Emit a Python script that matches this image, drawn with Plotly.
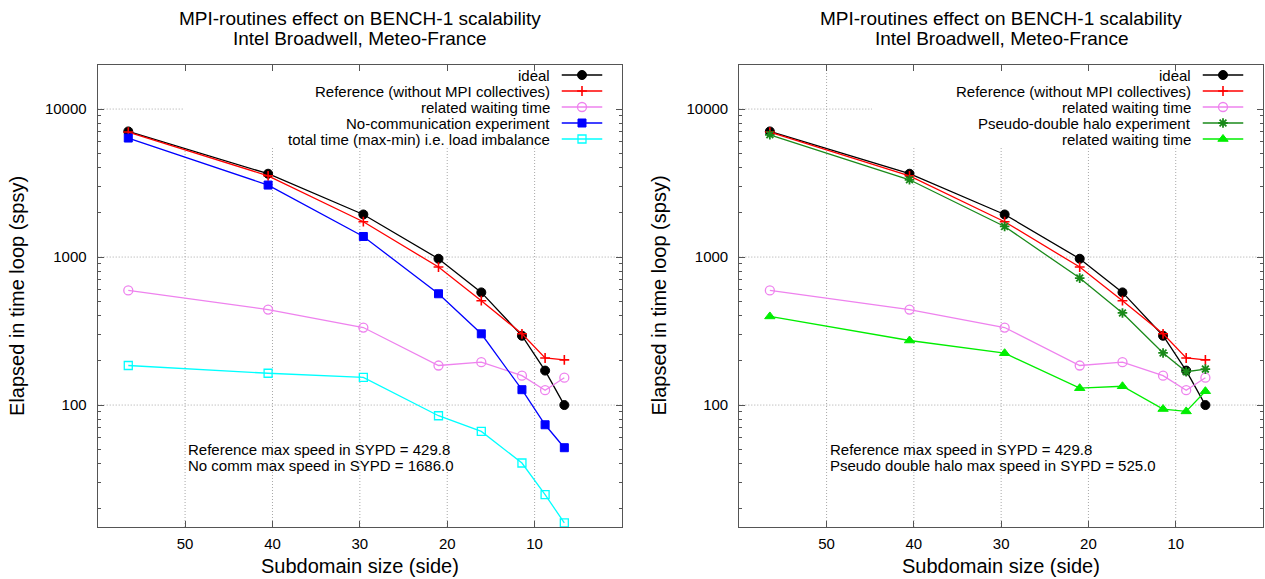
import math
import plotly.graph_objects as go

# ---------------- data ----------------
side = [56.5, 40.5, 29.6, 21.0, 16.1, 11.45, 8.8, 6.6]

ideal = [7060, 3656, 1940, 974, 577, 294, 171, 100]
reference = [6995, 3540, 1733, 856, 507, 303, 208, 202]
ref_wait = [595, 442, 334, 185, 195, 158, 126, 153]
nocomm = [6370, 3065, 1377, 565, 303, 127, 73.6, 51.5]
imbalance = [185, 164, 154, 84.7, 66.4, 40.6, 24.8, 16.0]
pseudo = [6700, 3327, 1610, 721, 419, 225, 168, 175]
pseudo_wait = [397, 273, 224, 130, 134, 94, 90.6, 124]

x_ticks = [10, 20, 30, 40, 50]
y_ticks = [100, 1000, 10000]
y_ticktext = ["100", "1000", "10000"]

title_lines = ["MPI-routines effect on BENCH-1 scalability", "Intel Broadwell, Meteo-France"]
x_title = "Subdomain size (side)"
y_title = "Elapsed in time loop (spsy)"

left_names = ["ideal", "Reference (without MPI collectives)", "related waiting time",
              "No-communication experiment", "total time (max-min) i.e. load imbalance"]
right_names = ["ideal", "Reference (without MPI collectives)", "related waiting time",
               "Pseudo-double halo experiment", "related waiting time"]
left_notes = ["Reference max speed in SYPD = 429.8", "No comm max speed in SYPD = 1686.0"]
right_notes = ["Reference max speed in SYPD = 429.8", "Pseudo double halo max speed in SYPD = 525.0"]

# ---------------- styles ----------------
W, H = 1265, 579
FONT = "Liberation Sans, Arial, sans-serif"
FS = 15
TOP, BOT = 64.5, 527.0
PANELS = [(97.7, 622.0), (739.3, 1263.0)]
Y_MIN, Y_MAX = 15, 20000

styles = {
    "ideal": dict(color="black", symbol="circle", size=9, lw=1),
    "reference": dict(color="#ff0000", symbol="cross-thin-open", size=7, lw=1.6),
    "ref_wait": dict(color="#ee82ee", symbol="circle-open", size=9, lw=1.3),
    "nocomm": dict(color="#0000ff", symbol="square", size=8, lw=1),
    "imbalance": dict(color="#00ffff", symbol="square-open", size=8, lw=1.3),
    "pseudo": dict(color="#1a8a1a", symbol="asterisk-open", size=8, lw=1.8),
    "pseudo_wait": dict(color="#00ee00", symbol="triangle-up", size=9, lw=1),
}

left_series = [("ideal", ideal), ("reference", reference), ("ref_wait", ref_wait),
               ("nocomm", nocomm), ("imbalance", imbalance)]
right_series = [("ideal", ideal), ("reference", reference), ("ref_wait", ref_wait),
                ("pseudo", pseudo), ("pseudo_wait", pseudo_wait)]

minor_vals = [m * 10 ** e for e in range(1, 5) for m in range(2, 10)
              if Y_MIN <= m * 10 ** e <= Y_MAX]


def px(xp):
    return xp / W


def py(yp):
    return 1 - yp / H


fig = go.Figure()

axis_common = dict(
    showline=True, linecolor="#555555", linewidth=1.2, mirror="allticks",
    ticks="inside", ticklen=6, tickcolor="#555555", tickwidth=1,
    showgrid=False, zeroline=False, tickfont=dict(family=FONT, size=FS, color="black"),
)
GRID = dict(color="#a8a8a8", width=1, dash="1px,2px")

layout = dict(
    width=W, height=H, margin=dict(l=0, r=0, t=0, b=0),
    paper_bgcolor="white", plot_bgcolor="rgba(0,0,0,0)", showlegend=False,
    font=dict(family=FONT, size=FS, color="black"),
    annotations=[], shapes=[],
)

for i, ((x0, x1), series, names, notes) in enumerate(
        zip(PANELS, [left_series, right_series], [left_names, right_names],
            [left_notes, right_notes])):
    n = i + 1
    xa = "x" if n == 1 else "x%d" % n
    ya = "y" if n == 1 else "y%d" % n
    layout["xaxis" if n == 1 else "xaxis%d" % n] = dict(
        axis_common, domain=[px(x0), px(x1)], range=[60, 0], tickvals=x_ticks,
        anchor=ya, ticklabelstandoff=3)
    layout["yaxis" if n == 1 else "yaxis%d" % n] = dict(
        axis_common, domain=[py(BOT), py(TOP)], type="log",
        range=[math.log10(Y_MIN), math.log10(Y_MAX)], tickvals=y_ticks, ticktext=y_ticktext,
        anchor=xa, ticklabelstandoff=7,
        minor=dict(tickmode="array", tickvals=minor_vals, ticks="inside", ticklen=3,
                   tickcolor="#555555", showgrid=False))

    # grid lines (drawn as shapes so the key box can hide them, like gnuplot)
    for xv in x_ticks:
        layout["shapes"].append(dict(type="line", layer="below", xref=xa, yref=ya + " domain",
                                     x0=xv, x1=xv, y0=0, y1=1, line=GRID))
    for yv in y_ticks:
        layout["shapes"].append(dict(type="line", layer="below", xref=xa + " domain", yref=ya,
                                     x0=0, x1=1, y0=yv, y1=yv, line=GRID))
    key_left = 183.0 if n == 1 else 872.0
    layout["shapes"].append(dict(
        type="rect", xref=xa + " domain", yref=ya + " domain", layer="below",
        x0=(key_left - x0) / (x1 - x0), x1=1, y0=(BOT - 146) / (BOT - TOP), y1=1,
        fillcolor="white", line=dict(width=0)))

    for key, vals in series:
        st = styles[key]
        fig.add_trace(go.Scatter(
            x=side, y=vals, xaxis=xa, yaxis=ya, mode="lines+markers",
            line=dict(color=st["color"], width=1.3),
            marker=dict(symbol=st["symbol"], size=st["size"], color=st["color"],
                        line=dict(color=st["color"], width=st["lw"])),
            cliponaxis=False, hoverinfo="skip"))

    # key samples on an auxiliary axis pair
    ka = n + 2
    kx, ky = "x%d" % ka, "y%d" % ka
    layout["xaxis%d" % ka] = dict(domain=[px(x1 - 60.5), px(x1 - 19.5)], range=[0, 1],
                                  visible=False, fixedrange=True, anchor=ky)
    layout["yaxis%d" % ka] = dict(domain=[py(147), py(67)], range=[5.5, 0.5],
                                  visible=False, fixedrange=True, anchor=kx)
    for r, ((key, _), name) in enumerate(zip(series, names), start=1):
        st = styles[key]
        fig.add_trace(go.Scatter(x=[0, 1], y=[r, r], xaxis=kx, yaxis=ky, mode="lines",
                                 line=dict(color=st["color"], width=1.3), hoverinfo="skip"))
        fig.add_trace(go.Scatter(x=[0.5], y=[r], xaxis=kx, yaxis=ky, mode="markers",
                                 marker=dict(symbol=st["symbol"], size=st["size"], color=st["color"],
                                             line=dict(color=st["color"], width=st["lw"])),
                                 hoverinfo="skip"))
        layout["annotations"].append(dict(
            text=name, xref="paper", yref=ky, x=px(x1 - 70.3), y=r, xanchor="right",
            yanchor="middle", showarrow=False, font=dict(family=FONT, size=FS)))

    cx = (x0 + x1) / 2
    for k, line in enumerate(title_lines):
        layout["annotations"].append(dict(
            text=line, xref="paper", yref="paper", x=px(cx), y=py(18 + 20.5 * k),
            xanchor="center", yanchor="middle", showarrow=False,
            font=dict(family=FONT, size=19)))
    layout["annotations"].append(dict(
        text=x_title, xref="paper", yref="paper", x=px(cx), y=py(566), xanchor="center",
        yanchor="middle", showarrow=False, font=dict(family=FONT, size=20)))
    layout["annotations"].append(dict(
        text=y_title, xref="paper", yref="paper", x=px(x0 - 80.5), y=py((TOP + BOT) / 2),
        xanchor="center", yanchor="middle", textangle=-90, showarrow=False,
        font=dict(family=FONT, size=20)))
    for k, note in enumerate(notes):
        layout["annotations"].append(dict(
            text=note, xref="paper", yref="paper", x=px(x0 + 88.5), y=py(449 + 16 * k),
            xanchor="left", yanchor="middle", showarrow=False,
            font=dict(family=FONT, size=FS)))

fig.update_layout(**layout)
fig.write_html("out.html")
